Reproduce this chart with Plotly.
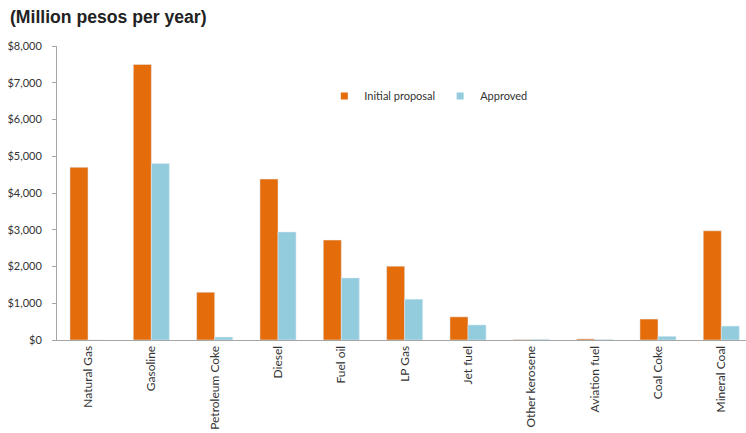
import plotly.graph_objects as go

# Fuel categories and amounts (million pesos per year)
categories = ["Natural Gas", "Gasoline", "Petroleum Coke", "Diesel", "Fuel oil",
              "LP Gas", "Jet fuel", "Other kerosene", "Aviation fuel", "Coal Coke",
              "Mineral Coal"]
initial_proposal = [4700, 7500, 1300, 4380, 2720, 2010, 630, 10, 30, 570, 2970]
approved = [0, 4800, 80, 2940, 1690, 1110, 410, 20, 15, 100, 380]

y_tick_vals = [0, 1000, 2000, 3000, 4000, 5000, 6000, 7000, 8000]
y_tick_text = ["$0", "$1,000", "$2,000", "$3,000", "$4,000", "$5,000",
               "$6,000", "$7,000", "$8,000"]

ORANGE = "#E46C0A"
BLUE = "#93CDDD"
FONT = "Lato, 'Liberation Sans', sans-serif"

x_pos = list(range(len(categories)))

fig = go.Figure()
fig.add_trace(go.Bar(name="Initial proposal", x=x_pos, y=initial_proposal,
                     marker_color=ORANGE, showlegend=False))
fig.add_trace(go.Bar(name="Approved", x=x_pos, y=approved,
                     marker_color=BLUE, showlegend=False))

# small square legend keys
for name, color in [("Initial proposal", ORANGE), ("Approved", BLUE)]:
    fig.add_trace(go.Scatter(name=name, x=[None], y=[None], mode="markers",
                             marker=dict(symbol="square", size=7, color=color),
                             showlegend=True))

fig.update_layout(
    width=746, height=433,
    margin=dict(l=57, r=0, t=46, b=93),
    paper_bgcolor="white", plot_bgcolor="white",
    barmode="group", bargap=0.43, bargroupgap=0,
    font=dict(family=FONT, size=11, color="#333333"),
    showlegend=True,
    legend=dict(orientation="h", x=0.388, y=0.83, xanchor="left", yanchor="middle",
                font=dict(size=11, color="#333333"), itemwidth=30,
                traceorder="normal", bgcolor="rgba(0,0,0,0)"),
    xaxis=dict(
        range=[-0.49, 10.39],
        tickmode="array", tickvals=x_pos, ticktext=categories,
        tickangle=-90, showline=True, linecolor="#A6A6A6", linewidth=1,
        showgrid=False, zeroline=False, ticks="",
        tickfont=dict(size=12, color="#333333"),
    ),
    yaxis=dict(
        range=[0, 8000], tickmode="array", tickvals=y_tick_vals, ticktext=y_tick_text,
        showline=True, linecolor="#A6A6A6", linewidth=1, showgrid=False,
        zeroline=False, ticks="outside", ticklen=4, tickcolor="#A6A6A6",
        ticklabelstandoff=8,
        tickfont=dict(size=11, color="#333333"),
    ),
    annotations=[dict(
        text="<b>(Million pesos per year)</b>", xref="paper", yref="paper",
        x=-49 / 689, y=1 + 29 / 294, xanchor="left", yanchor="middle",
        showarrow=False, font=dict(family="'Liberation Sans', Arial, sans-serif",
                                   size=17.6, color="#222222"),
    )],
)

fig.write_html("out.html")
